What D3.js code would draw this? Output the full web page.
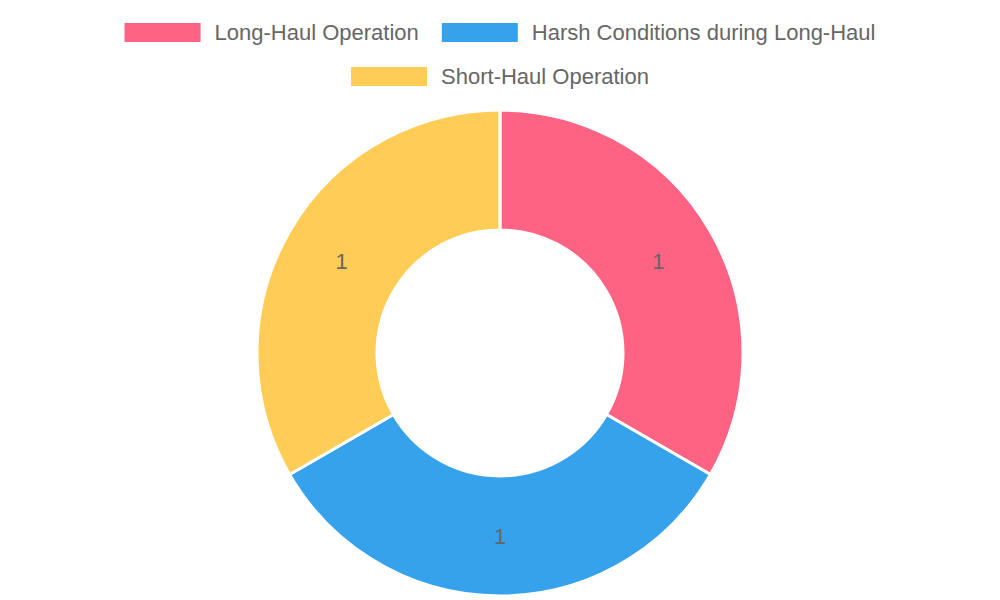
<!DOCTYPE html>
<html><head><meta charset="utf-8">
<script src="https://cdn.jsdelivr.net/npm/d3@7"></script>
<style>body{margin:0;background:#fff}</style>
</head><body>
<svg id="chart" width="1000" height="600"></svg>
<script>
const categories = ['Long-Haul Operation', 'Harsh Conditions during Long-Haul', 'Short-Haul Operation'];
const values = [1, 1, 1];
const colors = ['#ff6384', '#36a2eb', '#ffcd56'];

const svg = d3.select('#chart');
const font = '"Liberation Sans", Arial, sans-serif';

// legend rows, centred
const rows = [[0, 1], [2]];
const rowY = [32, 76];
rows.forEach((row, ri) => {
  const g = svg.append('g');
  let x = 0;
  row.forEach(i => {
    const item = g.append('g').attr('transform', `translate(${x},0)`);
    item.append('rect').attr('x', 0).attr('y', rowY[ri] - 9).attr('width', 76).attr('height', 19)
      .attr('fill', colors[i]);
    const t = item.append('text').attr('x', 90).attr('y', rowY[ri]).attr('dy', '0.35em')
      .attr('font-family', font).attr('font-size', 22).attr('fill', '#666').text(categories[i]);
    x += 90 + t.node().getComputedTextLength() + 23;
  });
  const w = x - 23;
  g.attr('transform', `translate(${(1000 - w) / 2},0)`);
});

const cx = 500, cy = 353, outer = 243, inner = 123;
const pie = d3.pie().sort(null)(values);
const arc = d3.arc().innerRadius(inner).outerRadius(outer);
const labelArc = d3.arc().innerRadius((inner + outer) / 2).outerRadius((inner + outer) / 2);
const g = svg.append('g').attr('transform', `translate(${cx},${cy})`);
g.selectAll('path').data(pie).join('path')
  .attr('d', arc).attr('fill', (d, i) => colors[i])
  .attr('stroke', '#fff').attr('stroke-width', 3);
g.selectAll('text').data(pie).join('text')
  .attr('transform', d => `translate(${labelArc.centroid(d)})`)
  .attr('text-anchor', 'middle').attr('dy', '0.35em')
  .attr('font-family', font).attr('font-size', 22).attr('fill', '#666')
  .text(d => d.data);
</script>
</body></html>
